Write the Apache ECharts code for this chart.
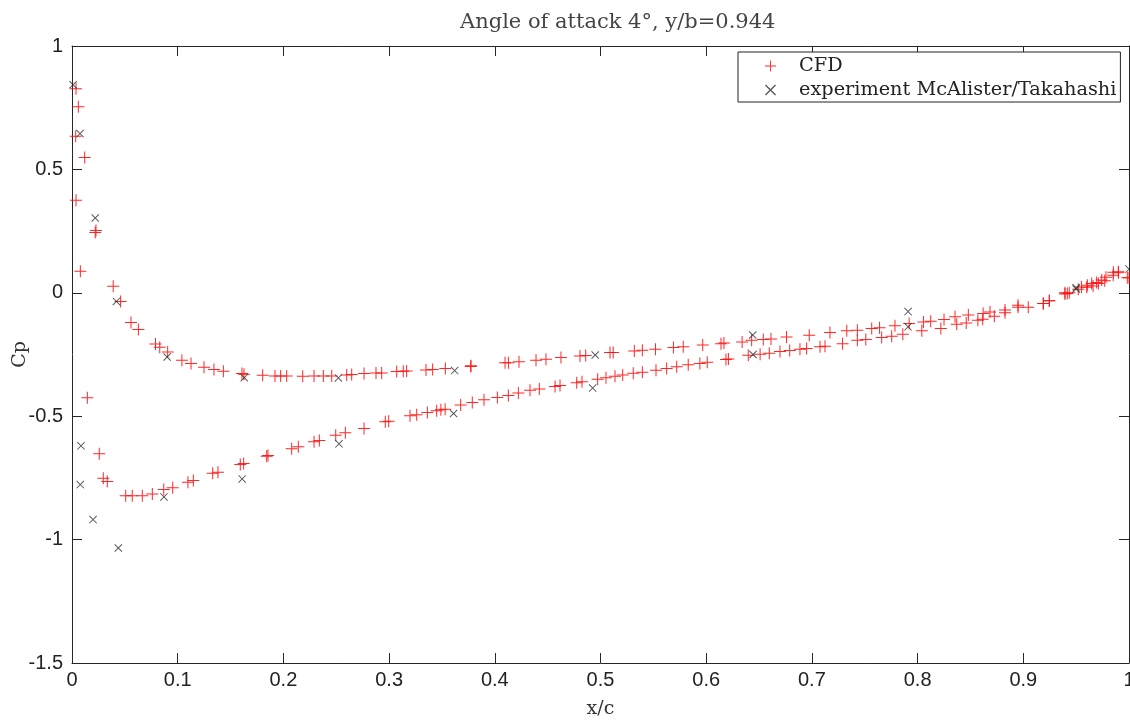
<!DOCTYPE html>
<html>
<head>
<meta charset="utf-8">
<script src="https://cdn.jsdelivr.net/npm/echarts@6/dist/echarts.min.js"></script>
<style>html,body{margin:0;padding:0;background:#fff;}#chart{width:1130px;height:720px;}</style>
</head>
<body>
<div id="chart"></div>
<script>
var titleText = 'Angle of attack 4°, y/b=0.944';
var xTickLabels = ['0','0.1','0.2','0.3','0.4','0.5','0.6','0.7','0.8','0.9','1'];
var yTickLabels = ['-1.5','-1','-0.5','0','0.5','1'];
var seriesNames = ['CFD', 'experiment McAlister/Takahashi'];

var cfdUpper = [[0.0038,0.827],[0.006,0.754],[0.0035,0.634],[0.012,0.548],[0.0227,0.252],[0.022,0.244],[0.039,0.027],[0.046,-0.035],[0.0558,-0.12],[0.0628,-0.149],[0.079,-0.207],[0.083,-0.221],[0.0905,-0.24],[0.104,-0.273],[0.1126,-0.286],[0.1249,-0.302],[0.1343,-0.311],[0.1432,-0.318],[0.1608,-0.327],[0.1627,-0.33],[0.1804,-0.334],[0.192,-0.337],[0.1974,-0.337],[0.2031,-0.337],[0.2183,-0.338],[0.229,-0.337],[0.2378,-0.337],[0.2457,-0.337],[0.2599,-0.333],[0.2646,-0.331],[0.2763,-0.327],[0.2876,-0.325],[0.293,-0.325],[0.3072,-0.319],[0.3134,-0.318],[0.3166,-0.317],[0.3349,-0.313],[0.3412,-0.311],[0.3532,-0.307],[0.3775,-0.296],[0.3772,-0.299],[0.4097,-0.283],[0.4129,-0.283],[0.4229,-0.279],[0.439,-0.273],[0.4484,-0.269],[0.4626,-0.262],[0.4806,-0.256],[0.486,-0.254],[0.509,-0.242],[0.512,-0.242],[0.532,-0.236],[0.5396,-0.233],[0.552,-0.229],[0.569,-0.222],[0.5783,-0.219],[0.5967,-0.212],[0.614,-0.206],[0.6168,-0.203],[0.634,-0.199],[0.643,-0.192],[0.654,-0.189],[0.6613,-0.187],[0.676,-0.179],[0.6975,-0.172],[0.7171,-0.161],[0.733,-0.154],[0.743,-0.152],[0.7566,-0.145],[0.764,-0.142],[0.7786,-0.134],[0.792,-0.124],[0.8055,-0.118],[0.8124,-0.115],[0.825,-0.108],[0.8354,-0.097],[0.848,-0.09],[0.862,-0.084],[0.8685,-0.078],[0.8827,-0.07],[0.895,-0.05],[0.9189,-0.043],[0.9246,-0.032],[0.9394,0.0],[0.9435,0.0],[0.955,0.024],[0.9606,0.031],[0.9647,0.038],[0.9694,0.042],[0.9742,0.052],[0.9782,0.063],[0.9852,0.083],[0.9899,0.085],[0.9984,0.061]];

var cfdLower = [[0.0038,0.375],[0.0079,0.087],[0.0145,-0.425],[0.0258,-0.652],[0.0296,-0.751],[0.0334,-0.765],[0.0508,-0.822],[0.057,-0.822],[0.0665,-0.822],[0.076,-0.815],[0.0868,-0.797],[0.0953,-0.79],[0.1097,-0.768],[0.1148,-0.761],[0.1331,-0.731],[0.1381,-0.727],[0.1592,-0.696],[0.1624,-0.692],[0.1842,-0.662],[0.1854,-0.659],[0.2078,-0.632],[0.2141,-0.624],[0.229,-0.604],[0.234,-0.598],[0.2495,-0.577],[0.2586,-0.567],[0.2763,-0.55],[0.2964,-0.522],[0.2996,-0.52],[0.3198,-0.498],[0.3261,-0.494],[0.3362,-0.485],[0.345,-0.478],[0.349,-0.474],[0.353,-0.472],[0.3677,-0.455],[0.3787,-0.444],[0.3898,-0.433],[0.4024,-0.424],[0.4128,-0.416],[0.4223,-0.406],[0.4333,-0.395],[0.4421,-0.39],[0.457,-0.38],[0.4617,-0.376],[0.4775,-0.364],[0.4825,-0.36],[0.4973,-0.35],[0.5052,-0.344],[0.5137,-0.338],[0.521,-0.333],[0.531,-0.326],[0.5396,-0.322],[0.5525,-0.314],[0.5626,-0.307],[0.5721,-0.3],[0.583,-0.292],[0.594,-0.286],[0.601,-0.281],[0.6187,-0.27],[0.621,-0.268],[0.6398,-0.253],[0.651,-0.249],[0.6597,-0.245],[0.6698,-0.238],[0.679,-0.234],[0.6887,-0.229],[0.695,-0.226],[0.7077,-0.219],[0.7124,-0.217],[0.729,-0.206],[0.743,-0.192],[0.751,-0.189],[0.766,-0.181],[0.7755,-0.176],[0.786,-0.168],[0.804,-0.154],[0.822,-0.145],[0.837,-0.127],[0.846,-0.122],[0.857,-0.111],[0.8616,-0.107],[0.8726,-0.095],[0.8827,-0.081],[0.895,-0.059],[0.9047,-0.059],[0.9189,-0.043],[0.9246,-0.032],[0.9394,-0.005],[0.9416,-0.003],[0.952,0.014],[0.96,0.022],[0.966,0.028],[0.971,0.038],[0.977,0.049],[0.985,0.071],[0.99,0.081],[1.0,0.061]];

var expUpper = [[0.001,0.843],[0.0076,0.645],[0.022,0.303],[0.042,-0.035],[0.09,-0.26],[0.163,-0.344],[0.252,-0.345],[0.362,-0.315],[0.495,-0.252],[0.644,-0.171],[0.791,-0.076],[0.95,0.02],[1.0,0.096]];
var expLower = [[0.0085,-0.62],[0.0078,-0.777],[0.0199,-0.919],[0.0438,-1.034],[0.087,-0.827],[0.161,-0.754],[0.2526,-0.612],[0.361,-0.489],[0.4926,-0.386],[0.6443,-0.25],[0.791,-0.138],[0.95,0.015]];

var plusPath = 'path://M0,5.5L12,5.5L12,6.5L0,6.5Z M5.5,0L6.5,0L6.5,12L5.5,12Z';
var crossPath = 'path://M0,1L1,0L12,11L11,12Z M11,0L12,1L1,12L0,11Z';

var axisColor = '#262626';
var sansFont = 'Liberation Sans';
var serifFont = 'DejaVu Serif';

function baseX(extra) {
  return Object.assign({
    type: 'value', min: 0, max: 1, interval: 0.1,
    axisLine: { show: true, onZero: false, lineStyle: { color: axisColor, width: 1 } },
    axisTick: { show: true, inside: true, length: 10, lineStyle: { color: axisColor, width: 1 } },
    splitLine: { show: false }
  }, extra);
}
function baseY(extra) {
  return Object.assign({
    type: 'value', min: -1.5, max: 1, interval: 0.5,
    axisLine: { show: true, onZero: false, lineStyle: { color: axisColor, width: 1 } },
    axisTick: { show: true, inside: true, length: 10, lineStyle: { color: axisColor, width: 1 } },
    splitLine: { show: false }
  }, extra);
}

var chart = echarts.init(document.getElementById('chart'), null, { renderer: 'canvas' });
chart.setOption({
  backgroundColor: '#ffffff',
  animation: false,
  title: {
    text: titleText, left: 455, top: 7,
    textStyle: { fontFamily: serifFont, fontSize: 21, fontWeight: 'normal', color: '#444' }
  },
  grid: { left: 72, right: 1, top: 46, bottom: 57, containLabel: false, outerBoundsMode: 'none' },
  legend: {
    orient: 'vertical', left: 738, top: 52,
    backgroundColor: '#ffffff', borderColor: '#222', borderWidth: 1, borderRadius: 0,
    padding: [4, 4, 2, 27], itemGap: 4, itemWidth: 11, itemHeight: 11,
    textStyle: { fontFamily: serifFont, fontSize: 19.3, color: '#222', lineHeight: 20, padding: [0, 0, 0, 18] },
    data: [
      { name: seriesNames[0], icon: plusPath },
      { name: seriesNames[1], icon: crossPath }
    ]
  },
  xAxis: [
    baseX({
      position: 'bottom',
      name: 'x/c', nameLocation: 'middle', nameGap: 37, nameMoveOverlap: false,
      nameTextStyle: { fontFamily: serifFont, fontSize: 19, color: '#333' },
      axisLabel: { fontFamily: sansFont, fontSize: 20, color: '#222', margin: 7,
        formatter: function (v) { return xTickLabels[Math.round(v * 10)]; } }
    }),
    baseX({ position: 'top', axisLabel: { show: false } })
  ],
  yAxis: [
    baseY({
      position: 'left',
      name: 'Cp', nameLocation: 'middle', nameGap: 42, nameMoveOverlap: false,
      nameTextStyle: { fontFamily: serifFont, fontSize: 19, color: '#333' },
      axisLabel: { fontFamily: sansFont, fontSize: 20, color: '#222', margin: 9,
        formatter: function (v) { return yTickLabels[Math.round((v + 1.5) * 2)]; } }
    }),
    baseY({ position: 'right', axisLabel: { show: false } })
  ],
  series: [
    {
      name: seriesNames[0], type: 'scatter', xAxisIndex: 0, yAxisIndex: 0,
      symbol: plusPath, symbolSize: 12,
      itemStyle: { color: '#ff1010', opacity: 0.9 },
      data: cfdUpper.concat(cfdLower), z: 2
    },
    {
      name: seriesNames[1], type: 'scatter', xAxisIndex: 0, yAxisIndex: 0,
      symbol: crossPath, symbolSize: 8,
      itemStyle: { color: '#2a2a2a' },
      data: expUpper.concat(expLower), z: 3
    }
  ]
});
</script>
</body>
</html>
